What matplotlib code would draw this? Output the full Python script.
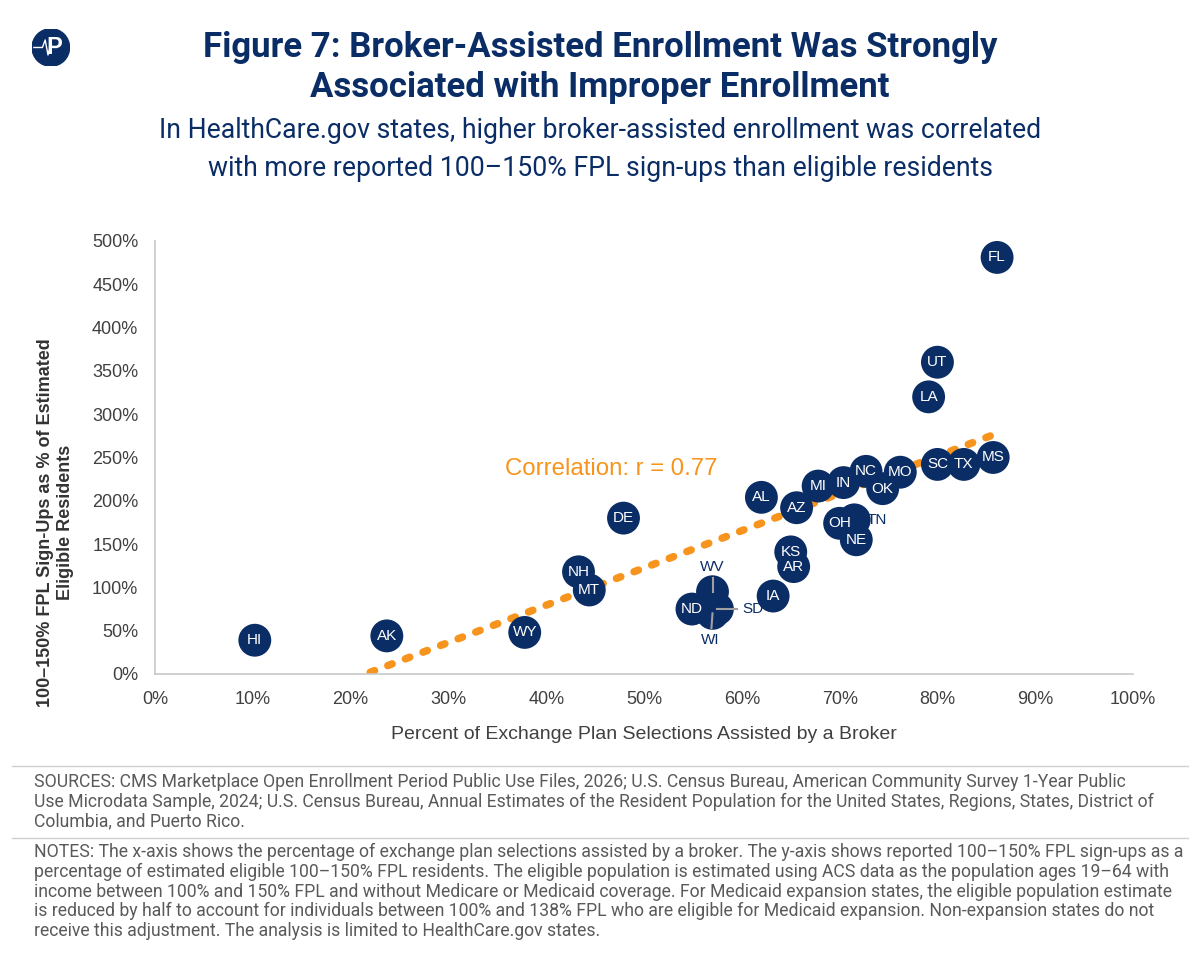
import matplotlib
matplotlib.use("Agg")
import matplotlib.pyplot as plt
import numpy as np
from matplotlib.patches import Circle
from matplotlib.ticker import FuncFormatter

NAVY = "#0B2D66"
ORANGE = "#F7941D"
GRAY_TXT = "#404040"
NOTE_TXT = "#5A5A5A"

# state data
states = ["HI", "AK", "WY", "NH", "MT", "DE", "ND", "WV", "SD", "WI",
          "IA", "KS", "AR", "AL", "AZ", "MI", "IN", "NC", "OK", "MO",
          "OH", "TN", "NE", "SC", "TX", "MS", "LA", "UT", "FL"]
broker_pct = [10.2, 23.7, 37.8, 43.3, 44.4, 47.9, 54.9, 57.0, 57.5, 57.0,
              63.2, 65.0, 65.3, 62.0, 65.6, 67.8, 70.4, 72.7, 74.4, 76.2,
              70.0, 71.5, 71.7, 80.0, 82.7, 85.7, 79.1, 80.0, 86.1]
signup_pct = [39, 44, 48, 118, 97, 180, 75, 95, 75, 70,
              90, 141, 124, 204, 192, 217, 221, 234, 214, 233,
              174, 178, 155, 242, 242, 250, 320, 360, 481]

# labels placed outside their bubble (label, dx, dy in data units)
outside = {"WV": (0.0, 28), "SD": (3.6, 0), "WI": (-0.2, -31), "TN": (2.3, 0)}

# trend line as drawn
trend_x = [22.0, 85.9]
trend_y = [2, 277]
corr_label = "Correlation: r = 0.77"

x_ticks = np.arange(0, 101, 10)
y_ticks = np.arange(0, 501, 50)

fig = plt.figure(figsize=(12, 9.67), dpi=100)
ax = fig.add_axes([0.1292, 0.3030, 0.8150, 0.4478])

ax.plot(trend_x, trend_y, color=ORANGE, lw=5.4, ls=(0, (0.62, 1.89)),
        dash_capstyle="round", solid_capstyle="round", zorder=2)

# draw in order so that the cluster stacks like the original
order = [states.index(s) for s in states if s != "TN"]
order.insert(order.index(states.index("OH")), states.index("TN"))
for i in order:
    ax.scatter(broker_pct[i], signup_pct[i], s=560, color=NAVY,
               edgecolors="none", zorder=3)
    if states[i] not in outside:
        ax.text(broker_pct[i], signup_pct[i], states[i], color="white",
                fontsize=11, ha="center", va="center",
                family="Liberation Sans", zorder=5)

# leader lines for the small cluster
for s, (dx, dy) in outside.items():
    i = states.index(s)
    x0, y0 = broker_pct[i], signup_pct[i]
    if s != "TN":
        ax.plot([x0, x0 + dx * 0.55], [y0, y0 + dy * 0.55], color="#A0A0A0",
                lw=1.5, zorder=4)
    ax.text(x0 + dx, y0 + dy, s, color=NAVY, fontsize=11,
            ha="center", va="center", family="Liberation Sans", zorder=5)

ax.text(35.8, 237, corr_label, color=ORANGE, fontsize=17.3, ha="left",
        va="center", family="Liberation Sans")

ax.set_xlim(0, 100)
ax.set_ylim(0, 500)
ax.set_xticks(x_ticks)
ax.set_yticks(y_ticks)
ax.xaxis.set_major_formatter(FuncFormatter(lambda v, p: f"{v:.0f}%"))
ax.yaxis.set_major_formatter(FuncFormatter(lambda v, p: f"{v:.0f}%"))
ax.tick_params(length=0, labelsize=13, colors=GRAY_TXT, pad=12)
for lab in ax.get_xticklabels() + ax.get_yticklabels():
    lab.set_family("Liberation Sans")
ax.tick_params(axis="y", pad=12)
for side in ["top", "right"]:
    ax.spines[side].set_visible(False)
ax.spines["left"].set_color("#C8C8C8")
ax.spines["bottom"].set_color("#C8C8C8")
ax.spines["left"].set_linewidth(1.2)
ax.spines["bottom"].set_linewidth(1.2)

ax.set_xlabel("Percent of Exchange Plan Selections Assisted by a Broker",
              fontsize=14, color=GRAY_TXT, labelpad=13, family="Liberation Sans")
fig.text(0.0465, 0.46, "100–150% FPL Sign-Ups as % of Estimated\nEligible Residents",
         rotation=90, ha="center", va="center", fontsize=13, fontweight="bold",
         color="#333333", family="Liberation Sans", linespacing=1.2)

# titles
fig.text(0.5, 1 - 47 / 967, "Figure 7: Broker-Assisted Enrollment Was Strongly",
         ha="center", va="center", fontsize=25, fontweight="bold",
         color=NAVY, family="Roboto")
fig.text(0.5, 1 - 87 / 967, "Associated with Improper Enrollment",
         ha="center", va="center", fontsize=25, fontweight="bold",
         color=NAVY, family="Roboto")
fig.text(0.5, 1 - 130 / 967,
         "In HealthCare.gov states, higher broker-assisted enrollment was correlated",
         ha="center", va="center", fontsize=19.2, color=NAVY, family="Roboto")
fig.text(0.5, 1 - 168 / 967,
         "with more reported 100–150% FPL sign-ups than eligible residents",
         ha="center", va="center", fontsize=19.2, color=NAVY, family="Roboto")

# logo
logo = fig.add_axes([0.0267, 0.9315, 0.0313, 0.0388])
logo.set_xlim(-1, 1)
logo.set_ylim(-1, 1)
logo.set_aspect("equal")
logo.axis("off")
logo.add_patch(Circle((0, 0), 1, color=NAVY))
logo.plot([-0.9, -0.45, -0.3, -0.15, 0.0, 0.1, 0.3],
          [0.0, 0.0, 0.4, -0.4, 0.15, 0.0, 0.0], color="white", lw=1)
logo.text(0.2, 0.0, "P", color="white", fontsize=17, fontweight="bold",
          ha="center", va="center", family="Liberation Sans")

# separators and notes
fig.add_artist(plt.Line2D([0.01, 0.99], [1 - 766 / 967] * 2,
                          color="#D0D0D0", lw=1))
fig.add_artist(plt.Line2D([0.01, 0.99], [1 - 838 / 967] * 2,
                          color="#D0D0D0", lw=1))

sources = ("SOURCES: CMS Marketplace Open Enrollment Period Public Use Files, 2026; U.S. Census Bureau, American Community Survey 1-Year Public\n"
           "Use Microdata Sample, 2024; U.S. Census Bureau, Annual Estimates of the Resident Population for the United States, Regions, States, District of\n"
           "Columbia, and Puerto Rico.")
notes = ("NOTES: The x-axis shows the percentage of exchange plan selections assisted by a broker. The y-axis shows reported 100–150% FPL sign-ups as a\n"
         "percentage of estimated eligible 100–150% FPL residents. The eligible population is estimated using ACS data as the population ages 19–64 with\n"
         "income between 100% and 150% FPL and without Medicare or Medicaid coverage. For Medicaid expansion states, the eligible population estimate\n"
         "is reduced by half to account for individuals between 100% and 138% FPL who are eligible for Medicaid expansion. Non-expansion states do not\n"
         "receive this adjustment. The analysis is limited to HealthCare.gov states.")
fig.text(34 / 1200, 1 - 773 / 967, sources, ha="left", va="top", fontsize=12.7,
         color=NOTE_TXT, family="Roboto", linespacing=1.12)
fig.text(34 / 1200, 1 - 843 / 967, notes, ha="left", va="top", fontsize=12.7,
         color=NOTE_TXT, family="Roboto", linespacing=1.12)

fig.savefig("out.png", dpi=100, facecolor="white")
